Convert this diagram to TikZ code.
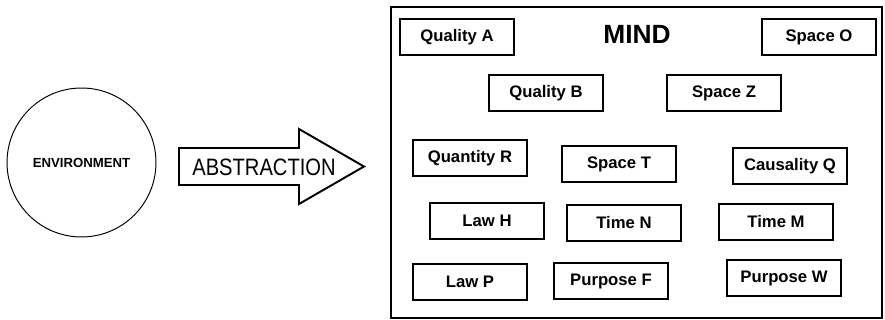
\documentclass[tikz,border=0pt]{standalone}
\usepackage{fontspec}
\setmainfont{Liberation Sans}
\newfontfamily\narrowsans[FakeStretch=0.85]{Liberation Sans}
\usepackage{tikz}

\begin{document}
\begin{tikzpicture}[x=0.02cm, y=-0.02cm,
  idea/.style={rectangle, draw=black, line width=0.85pt, minimum width=22.8mm, minimum height=7.2mm,
               inner sep=1pt, font=\bfseries\fontsize{9.5}{11}\selectfont},
  world/.style={circle, draw=black, line width=0.55pt, minimum size=29.8mm, inner sep=0pt,
                font=\bfseries\fontsize{7.5}{9}\selectfont},
  frame/.style={draw=black, line width=1.2pt},
  blockarrow/.style={draw=black, line width=1.1pt, fill=white, line join=miter}
]
\useasboundingbox (0,0) rectangle (885,320);
% left side
\node[world] (env) at (81.5,162.5) {ENVIRONMENT};
\draw[blockarrow] (179,148) -- (299,148) -- (299,129) -- (364,166.5) -- (299,204) -- (299,185) -- (179,185) -- cycle;
\node[font=\narrowsans\fontsize{13.5}{15}\selectfont, inner sep=0pt] (abs) at (264,167.5) {ABSTRACTION};
% the mind
\draw[frame] (391,7) rectangle (882,318);
\node[font=\bfseries\fontsize{15}{17}\selectfont, inner sep=0pt] (mind) at (637,34) {MIND};
\node[idea] (qa) at (457,37)  {Quality A};
\node[idea] (so) at (819,37)  {Space O};
\node[idea] (qb) at (546,93)  {Quality B};
\node[idea] (sz) at (724,93)  {Space Z};
\node[idea] (qr) at (470,158) {Quantity R};
\node[idea] (st) at (619,164) {Space T};
\node[idea] (cq) at (790,166) {Causality Q};
\node[idea] (lh) at (487,221) {Law H};
\node[idea] (tn) at (624,223) {Time N};
\node[idea] (tm) at (776,222) {Time M};
\node[idea] (lp) at (470,282) {Law P};
\node[idea] (pf) at (611,281) {Purpose F};
\node[idea] (pw) at (784,278) {Purpose W};
\end{tikzpicture}
\end{document}
